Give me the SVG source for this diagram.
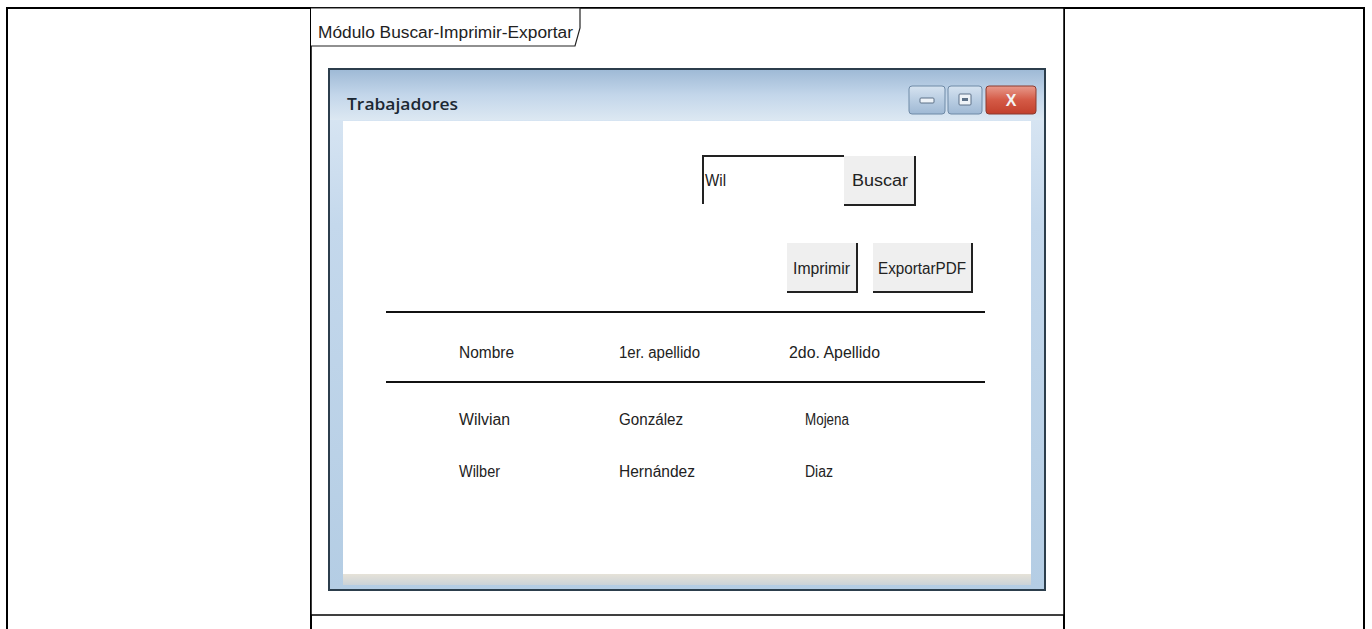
<svg xmlns="http://www.w3.org/2000/svg" width="1372" height="629" viewBox="0 0 1372 629">
<defs>
<linearGradient id="titleGrad" x1="0" y1="0" x2="0" y2="1">
<stop offset="0" stop-color="#9fbad6"/>
<stop offset="0.5" stop-color="#c3d6ea"/>
<stop offset="1" stop-color="#dce8f2"/>
</linearGradient>
<linearGradient id="sideGrad" x1="0" y1="0" x2="0" y2="1">
<stop offset="0" stop-color="#dfeaf5"/>
<stop offset="0.3" stop-color="#c4d8ec"/>
<stop offset="1" stop-color="#b4cde4"/>
</linearGradient>
<linearGradient id="ctlGrad" x1="0" y1="0" x2="0" y2="1">
<stop offset="0" stop-color="#d6e3f0"/>
<stop offset="0.5" stop-color="#b9cde2"/>
<stop offset="1" stop-color="#9fb9d4"/>
</linearGradient>
<linearGradient id="closeGrad" x1="0" y1="0" x2="0" y2="1">
<stop offset="0" stop-color="#e89a8c"/>
<stop offset="0.5" stop-color="#d45a46"/>
<stop offset="1" stop-color="#c2402c"/>
</linearGradient>
<linearGradient id="bottomGrad" x1="0" y1="0" x2="0" y2="1">
<stop offset="0" stop-color="#e6e2d8"/>
<stop offset="1" stop-color="#cbd3d8"/>
</linearGradient>
</defs>
<style>
.t{font-family:"Liberation Sans",Arial,sans-serif;font-size:16px;fill:#222}
.ttl{font-family:"Open Sans","Liberation Sans",sans-serif;font-size:17px;font-weight:600;fill:#1c2833}
.frame{fill:none;stroke:#000;stroke-width:2}
.btn{fill:#efefef;stroke:none}
.shadowLine{stroke:#222;stroke-width:2;fill:none}
.rule{stroke:#111;stroke-width:2}
</style>

<g id="outer-table">
<rect x="7" y="8" width="1357" height="630" class="frame"/>
<line x1="311" y1="8" x2="311" y2="629" stroke="#000" stroke-width="2"/>
<line x1="1064" y1="8" x2="1064" y2="629" stroke="#000" stroke-width="2"/>
</g>

<g id="module-frame">
<rect x="311" y="8" width="753" height="607" fill="#fff" stroke="#000" stroke-width="1.5"/>
<path d="M311,8 L580,8 L580,28 L575,46 L311,46" fill="#fff" stroke="#222" stroke-width="1.2"/>
<text x="318" y="38" class="t" font-size="17" textLength="255" lengthAdjust="spacingAndGlyphs">Módulo Buscar-Imprimir-Exportar</text>
</g>

<g id="window">
<rect x="329" y="69" width="716" height="521" fill="url(#sideGrad)" stroke="#2c3e4c" stroke-width="2"/>
<rect x="330" y="70" width="714" height="50" fill="url(#titleGrad)"/>
<rect x="343" y="121" width="688" height="455" fill="#ffffff"/>
<rect x="343" y="574" width="688" height="11" fill="url(#bottomGrad)"/>
<text x="347" y="110" class="ttl" textLength="111" lengthAdjust="spacingAndGlyphs">Trabajadores</text>
<g id="btn-min">
<rect x="909" y="86" width="36" height="28" rx="3" fill="url(#ctlGrad)" stroke="#6f8aa6" stroke-width="1"/>
<rect x="920" y="98" width="14" height="5" rx="1" fill="#eef3f8" stroke="#5d7188" stroke-width="1"/>
</g>
<g id="btn-max">
<rect x="948" y="86" width="34" height="28" rx="3" fill="url(#ctlGrad)" stroke="#6f8aa6" stroke-width="1"/>
<rect x="959" y="94" width="12" height="11" rx="1" fill="#eef3f8" stroke="#5d7188" stroke-width="1"/>
<rect x="962" y="98" width="6" height="3" fill="#5d7188"/>
</g>
<g id="btn-close">
<rect x="986" y="86" width="50" height="28" rx="3" fill="url(#closeGrad)" stroke="#8a3a2e" stroke-width="1"/>
<text x="1011" y="106" text-anchor="middle" font-family="Liberation Sans,Arial,sans-serif" font-weight="bold" font-size="16" fill="#f4f4f4">X</text>
</g>
</g>

<g id="search-box">
<rect x="703" y="156" width="141" height="48" fill="#fff"/>
<path d="M703,204 L703,156 L844,156" class="shadowLine"/>
<text x="705" y="186" class="t" textLength="21" lengthAdjust="spacingAndGlyphs">Wil</text>
</g>

<g id="btn-buscar">
<rect x="844" y="156" width="71" height="49" class="btn"/>
<path d="M844,205 L915,205 L915,156" class="shadowLine"/>
<text x="852" y="186" class="t" textLength="56" lengthAdjust="spacingAndGlyphs">Buscar</text>
</g>

<g id="btn-imprimir">
<rect x="787" y="243" width="70" height="49" class="btn"/>
<path d="M787,292 L857,292 L857,243" class="shadowLine"/>
<text x="793" y="274" class="t" textLength="57" lengthAdjust="spacingAndGlyphs">Imprimir</text>
</g>

<g id="btn-exportar">
<rect x="873" y="243" width="99" height="49" class="btn"/>
<path d="M873,292 L972,292 L972,243" class="shadowLine"/>
<text x="878" y="274" class="t" textLength="88" lengthAdjust="spacingAndGlyphs">ExportarPDF</text>
</g>

<g id="table">
<line x1="386" y1="312" x2="985" y2="312" class="rule"/>
<line x1="386" y1="382" x2="985" y2="382" class="rule"/>
<text x="459" y="358" class="t" textLength="55" lengthAdjust="spacingAndGlyphs">Nombre</text>
<text x="619" y="358" class="t" textLength="81" lengthAdjust="spacingAndGlyphs">1er. apellido</text>
<text x="789" y="358" class="t" textLength="91" lengthAdjust="spacingAndGlyphs">2do. Apellido</text>
<text x="459" y="425" class="t" textLength="51" lengthAdjust="spacingAndGlyphs">Wilvian</text>
<text x="619" y="425" class="t" textLength="64" lengthAdjust="spacingAndGlyphs">González</text>
<text x="805" y="425" class="t" textLength="44" lengthAdjust="spacingAndGlyphs">Mojena</text>
<text x="459" y="477" class="t" textLength="41" lengthAdjust="spacingAndGlyphs">Wilber</text>
<text x="619" y="477" class="t" textLength="76" lengthAdjust="spacingAndGlyphs">Hernández</text>
<text x="805" y="477" class="t" textLength="28" lengthAdjust="spacingAndGlyphs">Diaz</text>
</g>
</svg>
